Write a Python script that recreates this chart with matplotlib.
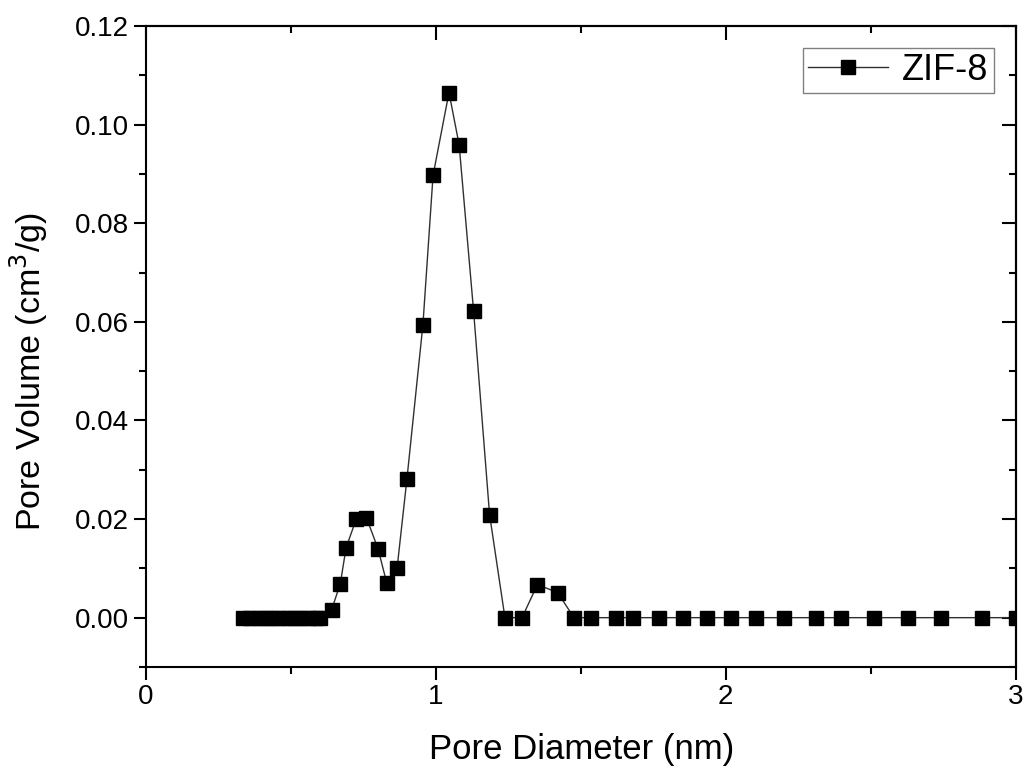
import matplotlib.pyplot as plt
from matplotlib.ticker import MultipleLocator

plt.rcParams['font.family'] = ['Liberation Sans', 'DejaVu Sans']

# pore size distribution of ZIF-8
diameter = [0.335, 0.36, 0.385, 0.41, 0.435, 0.46, 0.485, 0.51, 0.535, 0.56, 0.585, 0.60,
            0.64, 0.67, 0.69, 0.725, 0.76, 0.80, 0.83, 0.866, 0.90, 0.955, 0.99,
            1.045, 1.08, 1.13, 1.185, 1.238, 1.297, 1.35, 1.42, 1.476, 1.534,
            1.621, 1.679, 1.769, 1.852, 1.934, 2.017, 2.103, 2.20, 2.31, 2.397,
            2.51, 2.628, 2.741, 2.883, 3.0]
volume = [0.0, 0.0, 0.0, 0.0, 0.0, 0.0, 0.0, 0.0, 0.0, 0.0, 0.0, 0.0,
          0.0016, 0.0069, 0.0142, 0.0200, 0.0203, 0.0140, 0.0071, 0.0101, 0.0282, 0.0594, 0.0897,
          0.1065, 0.0959, 0.0621, 0.0209, 0.0, 0.0, 0.0067, 0.0051, 0.0, 0.0,
          0.0, 0.0, 0.0, 0.0, 0.0, 0.0, 0.0, 0.0, 0.0, 0.0,
          0.0, 0.0, 0.0, 0.0, 0.0]

fig = plt.figure(figsize=(10.29, 7.76), dpi=100)
ax = fig.add_axes([0.142, 0.1405, 0.845, 0.826])

ax.plot(diameter, volume, color='#303030', lw=1.0, marker='s', markersize=10,
        markerfacecolor='black', markeredgecolor='black', label='ZIF-8')

ax.set_xlim(0, 3)
ax.set_ylim(-0.01, 0.12)
ax.xaxis.set_major_locator(MultipleLocator(1))
ax.xaxis.set_minor_locator(MultipleLocator(0.5))
ax.yaxis.set_major_locator(MultipleLocator(0.02))
ax.yaxis.set_minor_locator(MultipleLocator(0.01))
ax.yaxis.set_major_formatter(plt.FormatStrFormatter('%.2f'))

ax.tick_params(which='both', direction='out', width=1.5, labelsize=20, top=False, right=False)
ax.tick_params(which='major', length=9)
ax.tick_params(which='minor', length=5)
for s in ax.spines.values():
    s.set_linewidth(1.5)

# top/right axes with inward ticks
top = ax.secondary_xaxis('top')
top.xaxis.set_major_locator(MultipleLocator(1))
top.xaxis.set_minor_locator(MultipleLocator(0.5))
top.tick_params(which='both', direction='in', width=1.5, labeltop=False)
top.tick_params(which='major', length=10)
top.tick_params(which='minor', length=5)
top.spines['top'].set_linewidth(1.5)

right = ax.secondary_yaxis('right')
right.yaxis.set_major_locator(MultipleLocator(0.02))
right.yaxis.set_minor_locator(MultipleLocator(0.01))
right.tick_params(which='both', direction='in', width=1.5, labelright=False)
right.tick_params(which='major', length=10)
right.tick_params(which='minor', length=5)
right.spines['right'].set_linewidth(1.5)

ax.set_xlabel('Pore Diameter (nm)', fontsize=25)
ax.set_ylabel('Pore Volume (cm$^3$/g)', fontsize=24.5)
ax.xaxis.set_label_coords(0.501, -0.103)
ax.yaxis.set_label_coords(-0.11, 0.46)

leg = ax.legend(loc='upper right', fontsize=26, handlelength=2.2, fancybox=False,
                edgecolor='#808080', framealpha=1, borderaxespad=0.6,
                handletextpad=0.4, borderpad=0.15)
leg.get_frame().set_linewidth(1.0)

fig.savefig('out.png', dpi=100)
